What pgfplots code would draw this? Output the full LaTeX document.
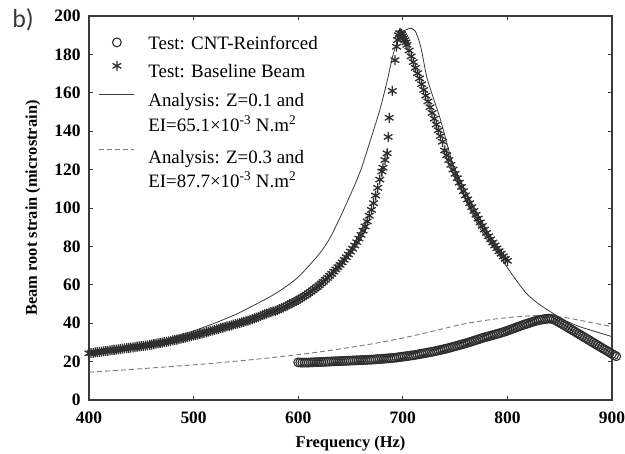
\documentclass[border=0pt]{standalone}
\usepackage{fontspec}
\setmainfont{Liberation Serif}
\newfontfamily\carlito{Carlito}
\usepackage{pgfplots}
\pgfplotsset{compat=1.18}
\definecolor{ink}{HTML}{2E2E2E}
\definecolor{axisgray}{HTML}{3A3A3A}
\definecolor{dashgray}{HTML}{7A7A7A}
\newcommand{\rh}[1]{\rule{0pt}{#1bp}}
\begin{document}
\begin{tikzpicture}
\begin{axis}[
  scale only axis, width=523bp, height=384bp,
  xmin=400, xmax=900, ymin=0, ymax=200,
  xtick={400,500,...,900}, ytick={0,20,...,200},
  tick align=inside, major tick length=4bp,
  axis line style={draw=axisgray, line width=1.1bp},
  every tick/.style={axisgray, line width=0.8bp},
  tick label style={font=\fontsize{17.5}{17.5}\selectfont\bfseries, text=black},
  xticklabel style={yshift=-8bp},
  yticklabel style={xshift=-5bp},
  /pgf/number format/assume math mode=true,
  xlabel={Frequency (Hz)}, ylabel={Beam root strain (microstrain)},
  label style={font=\fontsize{16.5}{16.5}\selectfont\bfseries},
  xlabel style={yshift=-6bp},
  ylabel shift=7bp,
  clip=false,
  legend cell align=left,
  legend style={at={(0.0177,0.965)}, anchor=north west, draw=none, fill=none,
    font=\fontsize{19}{23}\selectfont, row sep=-2bp, inner xsep=0bp},
  legend image code/.code={\draw[mark repeat=2,mark phase=2,#1] plot coordinates {(0bp,0bp) (18bp,0bp) (35bp,0bp)}; \path (47bp,0bp);},
]
\addplot[only marks, mark=o, mark size=4.4bp, draw=ink, mark options={line width=1.1bp}] coordinates {
(600,19.6) (602,19.5) (604,19.5) (606,19.5) (608,19.5) (610,19.5) (612,19.6) (614,19.6) (616,19.7) (618,19.7)
(620,19.8) (622,19.8) (624,19.9) (626,19.9) (628,20.0) (630,20.0) (632,20.1) (634,20.1) (636,20.2) (638,20.2)
(640,20.3) (642,20.3) (644,20.4) (646,20.4) (648,20.5) (650,20.5) (652,20.6) (654,20.6) (656,20.7) (658,20.7)
(660,20.8) (662,20.8) (664,20.9) (666,20.9) (668,21.0) (670,21.0) (672,21.1) (674,21.2) (676,21.3) (678,21.3)
(680,21.4) (682,21.5) (684,21.6) (686,21.7) (688,21.8) (690,21.9) (692,22.0) (694,22.1) (696,22.3) (698,22.4)
(700,22.6) (702,22.7) (704,22.9) (706,23.0) (708,23.2) (710,23.3) (712,23.5) (714,23.7) (716,23.9) (718,24.1)
(720,24.3) (722,24.5) (724,24.7) (726,24.9) (728,25.1) (730,25.3) (732,25.6) (734,25.8) (736,26.1) (738,26.3)
(740,26.6) (742,26.8) (744,27.1) (746,27.4) (748,27.7) (750,28.0) (752,28.3) (754,28.6) (756,28.9) (758,29.2)
(760,29.5) (762,29.8) (764,30.2) (766,30.5) (768,30.9) (770,31.2) (772,31.6) (774,31.9) (776,32.3) (778,32.6)
(780,32.9) (782,33.2) (784,33.5) (786,33.8) (788,34.1) (790,34.4) (792,34.7) (794,35.0) (796,35.4) (798,35.7)
(800,36.1) (802,36.5) (804,36.9) (806,37.3) (808,37.7) (810,38.1) (812,38.5) (814,38.9) (816,39.3) (818,39.6)
(820,40.0) (822,40.3) (824,40.7) (826,41.0) (828,41.3) (830,41.6) (832,41.8) (834,42.0) (836,42.2) (838,42.3)
(840,42.4) (842,42.3) (844,42.0) (846,41.5) (848,40.9) (850,40.3) (852,39.7) (854,39.0) (856,38.4) (858,37.7)
(860,37.1) (862,36.4) (864,35.8) (866,35.1) (868,34.5) (870,33.8) (872,33.2) (874,32.5) (876,31.9) (878,31.2)
(880,30.5) (882,29.9) (884,29.2) (886,28.6) (888,27.9) (890,27.3) (892,26.6) (894,26.0) (896,25.3) (898,24.7)
(900,24.0) (902,23.4) (904,22.8)
};
\addlegendentry{Test: CNT-Reinforced\rh{16}}
\addplot[only marks, mark=asterisk, mark size=5bp, draw=ink, mark options={line width=1.3bp}] coordinates {
(400,24.3) (402,24.45) (404,24.6) (406,24.75) (408,24.9) (410,25.05) (412,25.2) (414,25.35) (416,25.5) (418,25.65)
(420,25.8) (422,25.95) (424,26.1) (426,26.25) (428,26.4) (430,26.55) (432,26.7) (434,26.85) (436,27.0) (438,27.15)
(440,27.3) (442,27.45) (444,27.6) (446,27.75) (448,27.9) (450,28.05) (452,28.2) (454,28.35) (456,28.5) (458,28.7)
(460,28.9) (462,29.1) (464,29.3) (466,29.5) (468,29.7) (470,29.9) (472,30.1) (474,30.3) (476,30.5) (478,30.75)
(480,31.0) (482,31.25) (484,31.5) (486,31.75) (488,32.0) (490,32.25) (492,32.5) (494,32.75) (496,33.0) (498,33.3)
(500,33.6) (502,33.85) (504,34.1) (506,34.4) (508,34.7) (510,35.0) (512,35.3) (514,35.6) (516,35.9) (518,36.2)
(520,36.5) (522,36.8) (524,37.1) (526,37.4) (528,37.7) (530,38.0) (532,38.3) (534,38.6) (536,38.9) (538,39.2)
(540,39.5) (542,39.8) (544,40.1) (546,40.4) (548,40.7) (550,41.05) (552,41.4) (554,41.75) (556,42.1) (558,42.5)
(560,42.9) (562,43.3) (564,43.7) (566,44.15) (568,44.6) (570,45.05) (572,45.5) (574,45.8) (576,46.1) (578,46.45)
(580,46.8) (582,47.3) (584,47.8) (586,48.3) (588,48.8) (590,49.35) (592,49.9) (594,50.45) (596,51.0) (598,51.6)
(600,52.2) (602,52.85) (604,53.5) (606,54.2) (608,54.9) (610,55.65) (612,56.4) (614,57.2) (616,58.0) (618,58.85)
(620,59.7) (622,60.65) (624,61.6) (626,62.6) (628,63.6) (630,64.65) (632,65.7) (634,66.85) (636,68.0) (638,69.2)
(640,70.4) (642,71.7) (644,73.0) (646,74.4) (648,75.8) (650,77.3) (652,78.8) (654,80.5) (656,82.2) (658,84.1)
(660,86.0) (662,88.2) (664,90.4) (666,93) (668,96) (670,99) (672,102.5) (674,106.5) (676,110.5) (678,114.8)
(680,119) (681,121) (683,125) (685,128.5) (686,137) (687,147) (690,161) (692.5,177) (694,184) (695,187.5)
(696,190) (697,191) (698,191) (699,190.5) (700,189.5) (701,188.5) (702,187.5) (703,186.3) (704,185) (706,182)
(708,179) (710,176) (712,173) (714,170.2) (716,167.5) (718,164.5) (720,161.5) (722,158.5) (724,155.5) (726,152.5)
(728,149.5) (730,146.5) (732,143.5) (734,140.5) (736,137.5) (738,134.5) (740,130) (742,127.5) (744,125) (746,122.5)
(748,120) (750,117.8) (752,115.5) (754,113.2) (756,111) (758,108.8) (760,106.6) (762,104.5) (764,102.5) (766,100.5)
(768,98.5) (770,96.5) (772,94.5) (774,92.5) (776,90.7) (778,88.8) (780,87) (782,85.3) (784,83.7) (786,82)
(788,80.5) (790,79) (792,77.5) (794,76.2) (796,74.8) (798,73.5) (800,72.5)
};
\addlegendentry{Test: Baseline Beam\rh{24}}
\addplot[no markers, smooth, tension=0.4, draw=axisgray, line width=0.8bp] coordinates {
(400,25.5) (420,26.8) (440,28.3) (460,30.1) (480,32.5) (500,36) (520,40) (540,44.5) (560,50) (580,56)
(600,64) (620,76) (630,84) (640,95) (650,107) (660,120) (670,137) (678,151) (685,166) (691,180.5)
(697,189) (702,192.5) (708,193.6) (712,192) (715,188) (718,182) (723,168) (730,156) (736,146) (745,128)
(752,116) (760,104) (770,93) (780,84) (793,74.6) (805,65) (818,55.6) (830,50) (844,45) (857,41)
(869,38.2) (885,35.5) (900,33)
};
\addlegendentry{Analysis: Z=0.1 and\rh{26}}
\addlegendimage{empty legend}
\addlegendentry{EI=65.1×10\textsuperscript{-3} N.m\textsuperscript{2}\rh{21}}
\addplot[no markers, smooth, draw=dashgray, line width=0.9bp, dash pattern=on 5bp off 3bp] coordinates {
(400,14.5) (430,15.5) (460,16.7) (490,17.9) (520,19.2) (550,20.7) (580,22.4) (610,24.3) (640,26.6) (670,29.2)
(700,32.3) (730,36) (760,39.8) (790,42.3) (815,43.6) (830,44) (845,43.6) (860,42.5) (875,40.9) (890,39.3)
(900,38.2)
};
\addlegendentry{Analysis: Z=0.3 and\rh{29}}
\addlegendimage{empty legend}
\addlegendentry{EI=87.7×10\textsuperscript{-3} N.m\textsuperscript{2}\rh{20}}
\draw[line width=2.4bp, axisgray] (rel axis cs:0,1) -- (axis cs:673,200);
\node[font=\carlito\fontsize{26}{26}\selectfont, text=axisgray, xshift=-66bp, yshift=-4bp] at (rel axis cs:0,1) {b)};
\end{axis}
\pgfresetboundingbox
\path[use as bounding box] ([shift={(-89bp,-53bp)}]current axis.south west) rectangle ([shift={(13bp,16bp)}]current axis.north east);
\end{tikzpicture}
\end{document}
